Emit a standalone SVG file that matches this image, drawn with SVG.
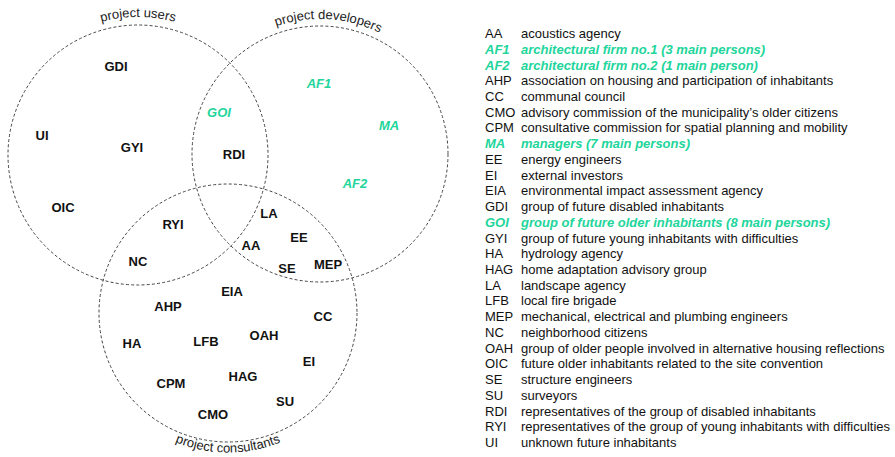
<svg xmlns="http://www.w3.org/2000/svg" xmlns:xlink="http://www.w3.org/1999/xlink" width="895" height="457" viewBox="0 0 895 457">
<style>
.c{fill:none;stroke:#444;stroke-width:1;stroke-dasharray:3 2.2}
.n{font-family:"Liberation Sans",Arial,sans-serif;font-size:13px;font-weight:bold;fill:#111;text-anchor:middle}
.g{fill:#22d59b;font-style:italic}
.cl{font-family:"Liberation Sans",Arial,sans-serif;font-size:13px;fill:#222;text-anchor:middle}
.l{font-family:"Liberation Sans",Arial,sans-serif;font-size:13px;fill:#111}
.lg{fill:#22d59b;font-style:italic;font-weight:bold}
</style>
<defs>
<path id="pu" d="M 0,155 A 138 138 0 0 1 276,155"/>
<path id="pd" d="M 185,154 A 135 135 0 0 1 455,154"/>
<path id="pc" d="M 88.5,313 A 139.5 139.5 0 0 0 367.5,313"/>
</defs>
<rect width="895" height="457" fill="#fff"/>
<g id="connectors">
<circle id="users" class="c" cx="138" cy="155" r="130"/>
<circle id="developers" class="c" cx="320" cy="154" r="128"/>
<circle id="consultants" class="c" cx="228" cy="313" r="129"/>
</g>
<g id="set-labels">
<text class="cl"><textPath xlink:href="#pu" href="#pu" startOffset="50%">project users</textPath></text>
<text class="cl"><textPath xlink:href="#pd" href="#pd" startOffset="52%">project developers</textPath></text>
<text class="cl"><textPath xlink:href="#pc" href="#pc" startOffset="50%">project consultants</textPath></text>
</g>
<g id="nodes">
<g id="n-GDI"><text class="n" x="116" y="71">GDI</text></g>
<g id="n-UI"><text class="n" x="42" y="140">UI</text></g>
<g id="n-GYI"><text class="n" x="132" y="152">GYI</text></g>
<g id="n-OIC"><text class="n" x="63" y="212">OIC</text></g>
<g id="n-GOI"><text class="n g" x="219" y="117">GOI</text></g>
<g id="n-RDI"><text class="n" x="234" y="159">RDI</text></g>
<g id="n-AF1"><text class="n g" x="319" y="88">AF1</text></g>
<g id="n-MA"><text class="n g" x="389" y="130">MA</text></g>
<g id="n-AF2"><text class="n g" x="355" y="188">AF2</text></g>
<g id="n-RYI"><text class="n" x="173" y="229">RYI</text></g>
<g id="n-LA"><text class="n" x="269" y="218">LA</text></g>
<g id="n-AA"><text class="n" x="251" y="250">AA</text></g>
<g id="n-EE"><text class="n" x="299" y="242">EE</text></g>
<g id="n-NC"><text class="n" x="138" y="266">NC</text></g>
<g id="n-SE"><text class="n" x="287" y="273">SE</text></g>
<g id="n-MEP"><text class="n" x="328" y="269">MEP</text></g>
<g id="n-EIA"><text class="n" x="232" y="296">EIA</text></g>
<g id="n-AHP"><text class="n" x="168" y="311">AHP</text></g>
<g id="n-CC"><text class="n" x="323" y="321">CC</text></g>
<g id="n-HA"><text class="n" x="132" y="348">HA</text></g>
<g id="n-LFB"><text class="n" x="206" y="346">LFB</text></g>
<g id="n-OAH"><text class="n" x="264" y="340">OAH</text></g>
<g id="n-EI"><text class="n" x="309" y="366">EI</text></g>
<g id="n-CPM"><text class="n" x="171" y="388">CPM</text></g>
<g id="n-HAG"><text class="n" x="243" y="381">HAG</text></g>
<g id="n-SU"><text class="n" x="285" y="406">SU</text></g>
<g id="n-CMO"><text class="n" x="213" y="419">CMO</text></g>
</g>
<g id="legend" class="l">
<text x="485" y="38">AA</text><text x="521" y="38">acoustics agency</text>
<g class="lg"><text x="485" y="53.7">AF1</text><text x="521" y="53.7">architectural firm no.1 (3 main persons)</text></g>
<g class="lg"><text x="485" y="69.5">AF2</text><text x="521" y="69.5">architectural firm no.2 (1 main person)</text></g>
<text x="485" y="85.2">AHP</text><text x="521" y="85.2">association on housing and participation of inhabitants</text>
<text x="485" y="100.9">CC</text><text x="521" y="100.9">communal council</text>
<text x="485" y="116.7">CMO</text><text x="521" y="116.7">advisory commission of the municipality’s older citizens</text>
<text x="485" y="132.4">CPM</text><text x="521" y="132.4">consultative commission for spatial planning and mobility</text>
<g class="lg"><text x="485" y="148.1">MA</text><text x="521" y="148.1">managers (7 main persons)</text></g>
<text x="485" y="163.8">EE</text><text x="521" y="163.8">energy engineers</text>
<text x="485" y="179.6">EI</text><text x="521" y="179.6">external investors</text>
<text x="485" y="195.3">EIA</text><text x="521" y="195.3">environmental impact assessment agency</text>
<text x="485" y="211">GDI</text><text x="521" y="211">group of future disabled inhabitants</text>
<g class="lg"><text x="485" y="226.8">GOI</text><text x="521" y="226.8">group of future older inhabitants (8 main persons)</text></g>
<text x="485" y="242.5">GYI</text><text x="521" y="242.5">group of future young inhabitants with difficulties</text>
<text x="485" y="258.2">HA</text><text x="521" y="258.2">hydrology agency</text>
<text x="485" y="274">HAG</text><text x="521" y="274">home adaptation advisory group</text>
<text x="485" y="289.7">LA</text><text x="521" y="289.7">landscape agency</text>
<text x="485" y="305.4">LFB</text><text x="521" y="305.4">local fire brigade</text>
<text x="485" y="321.2">MEP</text><text x="521" y="321.2">mechanical, electrical and plumbing engineers</text>
<text x="485" y="336.9">NC</text><text x="521" y="336.9">neighborhood citizens</text>
<text x="485" y="352.6">OAH</text><text x="521" y="352.6">group of older people involved in alternative housing reflections</text>
<text x="485" y="368.4">OIC</text><text x="521" y="368.4">future older inhabitants related to the site convention</text>
<text x="485" y="384.1">SE</text><text x="521" y="384.1">structure engineers</text>
<text x="485" y="399.8">SU</text><text x="521" y="399.8">surveyors</text>
<text x="485" y="415.6">RDI</text><text x="521" y="415.6">representatives of the group of disabled inhabitants</text>
<text x="485" y="431.3">RYI</text><text x="521" y="431.3">representatives of the group of young inhabitants with difficulties</text>
<text x="485" y="447">UI</text><text x="521" y="447">unknown future inhabitants</text>
</g>
</svg>
